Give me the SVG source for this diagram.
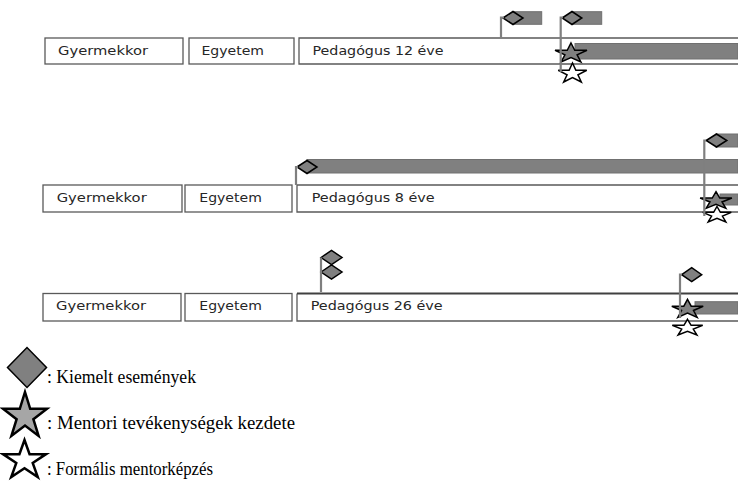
<svg xmlns="http://www.w3.org/2000/svg" width="738" height="489" viewBox="0 0 738 489">
<style>
.box{fill:#fff;stroke:#595959;stroke-width:1.3}
.lbl{font-family:"DejaVu Sans",sans-serif;font-size:13px;fill:#262626}
.ln{stroke:#7f7f7f;stroke-width:2;fill:none}
.pole{stroke:#7f7f7f;stroke-width:2.2;fill:none}
.bar{fill:#808080;stroke:#707070;stroke-width:1}
.dia{fill:#808080;stroke:#000;stroke-width:1.5}
.sg{fill:#7f7f7f;stroke:#000;stroke-width:1.5}
.sw{fill:#fff;stroke:#000;stroke-width:1.5}
.lg{fill:#a6a6a6;stroke:#000;stroke-width:2.5}
.lw{fill:#fff;stroke:#000;stroke-width:2.5}
.leg{font-family:"Liberation Serif",serif;font-size:18px;fill:#000}
</style>
<defs>
<polygon id="star" vector-effect="non-scaling-stroke" points="0,-1 0.2245,-0.309 0.951,-0.309 0.363,0.118 0.588,0.809 0,0.382 -0.588,0.809 -0.363,0.118 -0.951,-0.309 -0.2245,-0.309"/>
<polygon id="dia" vector-effect="non-scaling-stroke" points="-1,0 0,-1 1,0 0,1"/>
</defs>

<g id="row1">
<g id="r1-gyermekkor"><rect class="box" x="45" y="38" width="138" height="26"/><text class="lbl" x="58" y="55" textLength="90" lengthAdjust="spacingAndGlyphs">Gyermekkor</text></g>
<g id="r1-egyetem"><rect class="box" x="189" y="38" width="105" height="26"/><text class="lbl" x="201.5" y="55" textLength="62.5" lengthAdjust="spacingAndGlyphs">Egyetem</text></g>
<g id="r1-pedagogus"><path class="box" d="M738,38 H299 V64 H738"/><text class="lbl" x="312.5" y="55" textLength="131" lengthAdjust="spacingAndGlyphs">Pedagógus 12 éve</text></g>
<g id="r1-flag1"><rect class="bar" x="513" y="11.7" width="28.7" height="12.6"/><use href="#dia" class="dia" transform="translate(513,18) scale(10,6.5)"/></g>
<g id="r1-flag2"><rect class="bar" x="572" y="11.7" width="29.7" height="12.6"/><use href="#dia" class="dia" transform="translate(572,18) scale(9.8,6.5)"/></g>
<g id="r1-mentor"><rect class="bar" x="575" y="43.5" width="163" height="15.5"/><use href="#star" class="sg" transform="translate(571,53.5) scale(16.8,10.5)"/></g>
<g id="r1-formal"><use href="#star" class="sw" transform="translate(572.5,73.5) scale(15,10.5)"/></g>
</g>

<g id="row2">
<g id="r2-gyermekkor"><rect class="box" x="43" y="185" width="139" height="27"/><text class="lbl" x="56.7" y="202" textLength="90" lengthAdjust="spacingAndGlyphs">Gyermekkor</text></g>
<g id="r2-egyetem"><rect class="box" x="185" y="185" width="107" height="27"/><text class="lbl" x="199.3" y="202" textLength="62.5" lengthAdjust="spacingAndGlyphs">Egyetem</text></g>
<g id="r2-pedagogus"><path class="box" d="M738,185 H297 V212 H738"/><text class="lbl" x="311.7" y="202" textLength="123" lengthAdjust="spacingAndGlyphs">Pedagógus 8 éve</text></g>
<g id="r2-flag1"><rect class="bar" x="307" y="159.5" width="431" height="13.5"/><use href="#dia" class="dia" transform="translate(307,167) scale(10,6.5)"/></g>
<g id="r2-flag2"><rect class="bar" x="716" y="134" width="22" height="13"/><use href="#dia" class="dia" transform="translate(716.5,140.5) scale(10.3,6.5)"/></g>
<g id="r2-mentor"><rect class="bar" x="720" y="194" width="18" height="11"/><use href="#star" class="sg" transform="translate(716,200.9) scale(16.7,9.2)"/></g>
<g id="r2-formal"><use href="#star" class="sw" transform="translate(717,215) scale(15,8.5)"/></g>
</g>

<g id="row3">
<g id="r3-gyermekkor"><rect class="box" x="43" y="293.5" width="138" height="27.5"/><text class="lbl" x="56" y="310" textLength="90" lengthAdjust="spacingAndGlyphs">Gyermekkor</text></g>
<g id="r3-egyetem"><rect class="box" x="185" y="293.5" width="107" height="27.5"/><text class="lbl" x="199.3" y="310" textLength="62.5" lengthAdjust="spacingAndGlyphs">Egyetem</text></g>
<g id="r3-pedagogus"><path class="box" d="M738,321 H297 V293.5"/><path d="M297,293.5 H738" stroke="#404040" stroke-width="2" fill="none"/><text class="lbl" x="310.7" y="310" textLength="132" lengthAdjust="spacingAndGlyphs">Pedagógus 26 éve</text></g>
<g id="r3-flag1"><use href="#dia" class="dia" transform="translate(331.5,257.5) scale(10.5,7)"/><use href="#dia" class="dia" transform="translate(331.5,272) scale(10.5,7)"/></g>
<g id="r3-flag2"><use href="#dia" class="dia" transform="translate(691.7,274.7) scale(10,7)"/></g>
<g id="r3-mentor"><rect class="bar" x="695" y="301.7" width="43" height="12.3"/><use href="#star" class="sg" transform="translate(687.5,309.3) scale(16.5,10)"/></g>
<g id="r3-formal"><use href="#star" class="sw" transform="translate(687.5,328) scale(16,8.7)"/></g>
</g>

<g id="connectors">
<path class="pole" d="M501,38 V17.5 H504"/>
<path class="pole" d="M560.7,72 V17.5 H563"/>
<path class="pole" d="M296,185 V167 H298"/>
<path class="pole" d="M704.3,216 V140.5 H706"/>
<path class="pole" d="M321,292 V257.5"/>
<path class="pole" d="M680,318 V274.7 H682"/>
</g>

<g id="legend">
<g id="leg-diamond"><use href="#dia" class="dia" transform="translate(27,367.5) scale(19.5,20)"/><text class="leg" x="47" y="383" textLength="149" lengthAdjust="spacingAndGlyphs">: Kiemelt események</text></g>
<g id="leg-mentor"><use href="#star" class="lg" transform="translate(25,416.3) scale(23.1,24.3)"/><text class="leg" x="47" y="429" textLength="248" lengthAdjust="spacingAndGlyphs">: Mentori tevékenységek kezdete</text></g>
<g id="leg-formal"><use href="#star" class="lw" transform="translate(24.5,460.5) scale(22.6,20.5)"/><text class="leg" x="47" y="475" textLength="166" lengthAdjust="spacingAndGlyphs">: Formális mentorképzés</text></g>
</g>
</svg>
